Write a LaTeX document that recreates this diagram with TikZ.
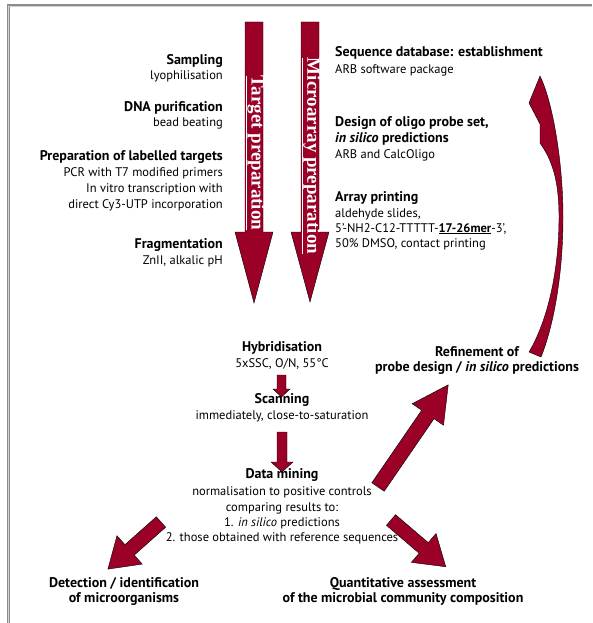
\documentclass[tikz,border=0pt]{standalone}
\usepackage{fontspec}
\setmainfont{PT Sans}
\newfontfamily\arrowfont{Liberation Serif}
\definecolor{arrowred}{RGB}{155,0,38}
\tikzset{
  hd/.style={font=\fontsize{14}{16}\selectfont\bfseries, inner sep=0pt},
  tx/.style={font=\fontsize{12.5}{15}\selectfont, inner sep=0pt},
  redfill/.style={fill=arrowred, draw=black, line width=0.4pt},
  vlabel/.style={text=white, font=\arrowfont\bfseries\fontsize{19}{19}\selectfont, rotate=-90, inner sep=0pt},
}
\newcommand\myarrow[7]{%
  \begin{scope}[shift={(#1,#2)},rotate=#3]
    \filldraw[redfill] (0,-#5/2) -- (#4-#7,-#5/2) -- (#4-#7,-#6/2) -- (#4,0) -- (#4-#7,#6/2) -- (#4-#7,#5/2) -- (0,#5/2) -- cycle;
  \end{scope}}
\begin{document}
\begin{tikzpicture}[x=1pt,y=-1pt]
\useasboundingbox (0,0) rectangle (592,623);
\fill[white] (0,0) rectangle (592,623);
\draw[gray!90, line width=3pt] (8,623) -- (8,6) -- (592,6);
\draw[gray!35, line width=0.8pt] (8,623) -- (8,6) -- (592,6);

% big vertical arrows
\filldraw[redfill] (245,22) -- (263,22) -- (263,232) -- (273,232) -- (254,303) -- (235,232) -- (245,232) -- cycle;
\node[vlabel] (tp) at (255,153) {\underline{Target preparation}};
\filldraw[redfill] (301,22) -- (319,22) -- (319,232) -- (329,232) -- (310,302) -- (291,232) -- (301,232) -- cycle;
\node[vlabel] (mp) at (311,156) {\underline{Microarray preparation}};

% left column
\node[hd, anchor=base east] (s1) at (223,65) {Sampling};
\node[tx, anchor=base east] (s2) at (223,80) {lyophilisation};
\node[hd, anchor=base east] (d1) at (223,112) {DNA purification};
\node[tx, anchor=base east] (d2) at (223,127) {bead beating};
\node[hd, anchor=base east] (p1) at (223,160) {Preparation of labelled targets};
\node[tx, anchor=base east] (p2) at (223,176) {PCR with T7 modified primers};
\node[tx, anchor=base east] (p3) at (223,192) {In vitro transcription with };
\node[tx, anchor=base east] (p4) at (223,208) {direct Cy3-UTP incorporation};
\node[hd, anchor=base east] (f1) at (223,248) {Fragmentation};
\node[tx, anchor=base east] (f2) at (223,264) {ZnII, alkalic pH};

% right column
\node[hd, anchor=base west] (q1) at (335,57) {Sequence database: establishment};
\node[tx, anchor=base west] (q2) at (335,74) {ARB software package};
\node[hd, anchor=base west] (o1) at (335,127) {Design of oligo probe set,};
\node[hd, anchor=base west] (o2) at (335,142) {\itshape in silico\upshape{} predictions};
\node[tx, anchor=base west] (o3) at (335,158) {ARB and CalcOligo};
\node[hd, anchor=base west] (a1) at (335,201) {Array printing};
\node[tx, anchor=base west] (a2) at (335,217) {aldehyde slides,};
\node[tx, anchor=base west] (a3) at (335,232) {5’-NH2-C12-TTTTT-\underline{\bfseries 17-26mer}-3’,};
\node[tx, anchor=base west] (a4) at (335,247) {50\% DMSO, contact printing};

% centre column
\node[hd, anchor=base] (h1) at (282,351) {Hybridisation};
\node[tx, anchor=base] (h2) at (282,367) {5xSSC, O/N, 55°C};
\node[hd, anchor=base] (c1) at (282,403) {Scanning};
\node[tx, anchor=base] (c2) at (282,419) {immediately, close-to-saturation};
\filldraw[redfill] (277,375) -- (286,375) -- (286,389) -- (290,389) -- (281.5,397) -- (273,389) -- (277,389) -- cycle;
\filldraw[redfill] (277,432) -- (287,432) -- (287,462) -- (293,462) -- (282,472) -- (271,462) -- (277,462) -- cycle;
\node[hd, anchor=base] (m1) at (282,478) {Data mining};
\node[tx, anchor=base] (m2) at (282,495) {normalisation to positive controls};
\node[tx, anchor=base] (m3) at (282,511) {comparing results to:};
\node[tx, anchor=base] (m4) at (282,526) {1. \textit{in silico} predictions};
\node[tx, anchor=base] (m5) at (282,541) {2. those obtained with reference sequences};

% refinement
\node[hd, anchor=base] (r1) at (477,356) {Refinement of};
\node[hd, anchor=base] (r2) at (477,371) {probe design / \itshape in silico\upshape{} predictions};

% bottom
\node[hd, anchor=base] (b1) at (124,587) {Detection / identification};
\node[hd, anchor=base] (b2) at (124,602) {of microorganisms};
\node[hd, anchor=base] (b3) at (403,587) {Quantitative assessment};
\node[hd, anchor=base] (b4) at (403,602) {of the microbial community composition};

% diagonal arrows
\myarrow{161}{522}{221.6}{71}{14}{38}{29}
\myarrow{391}{520}{-40.5}{72}{14}{38}{29}
\myarrow{378}{487}{55.5}{124}{15}{38}{36}

% curved feedback arrow
\filldraw[redfill] (540,76) .. controls (552,100) and (563,160) .. (563,217)
  .. controls (563,280) and (552,330) .. (541,357) -- (529,352)
  .. controls (548,320) and (559,270) .. (559,217)
  .. controls (559,180) and (552,160) .. (540,143) -- (540,124) -- (529,103) -- cycle;
\end{tikzpicture}
\end{document}
